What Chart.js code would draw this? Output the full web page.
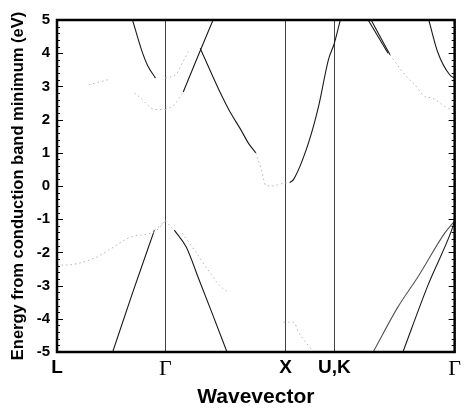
<!DOCTYPE html>
<html lang="en">
  <head>
    <meta charset="UTF-8" />
    <title>Band structure</title>
    <script src="https://cdn.jsdelivr.net/npm/chart.js"></script>
    <style>
      body {
        margin: 0;
        padding: 0;
        background-color: #fff;
      }

      .chart-container {
        position: relative;
        width: 465px;
        height: 412px;
      }
    </style>
  </head>
  <body>
    <div class="chart-container">
      <canvas id="band-chart"></canvas>
    </div>

    <script>
      // symmetry points along the wavevector axis (0 = L, 100 = Gamma)
      const kPoints = [0, 27.25, 57.5, 69.75, 100];
      const kLabels = ["L", "Γ", "X", "U,K", "Γ"];

      // energy axis (eV)
      const energyMin = -5;
      const energyMax = 5;

      // bands drawn dark
      const cbLG_k = [19, 21.25, 22.75, 24.75];
      const cbLG_E = [5, 4.1, 3.64, 3.25];
      const vbLG_k = [14, 19, 24.5];
      const vbLG_E = [-5, -3.22, -1.33];
      const cbGX1_k = [31.75, 35.75, 39.25];
      const cbGX1_E = [2.83, 4.0, 5];
      const cbGX2_k = [36, 41.5, 43.25, 46.25, 48.25, 50];
      const cbGX2_E = [4.15, 2.7, 2.29, 1.69, 1.27, 1.0];
      const vbGX_k = [29.5, 32.5, 35.75, 39, 42.75];
      const vbGX_E = [-1.33, -1.84, -2.83, -3.83, -5];
      const cbXU_k = [58.5, 59.5, 63.25, 65.75, 68.25, 69.75, 71.25];
      const cbXU_E = [0.1, 0.2, 1.3, 2.38, 3.8, 4.3, 5];
      const cbKG1_k = [79, 83.75];
      const cbKG1_E = [5, 3.95];
      const cbKG2_k = [78.25, 83.25];
      const cbKG2_E = [5, 4.0];
      const cbKG3_k = [93.5, 95.75, 98.75, 100];
      const cbKG3_E = [5, 4.03, 3.35, 3.25];
      const vbKG1_k = [87, 93.25, 99.25, 100];
      const vbKG1_E = [-5, -3.0, -1.33, -1.05];
      const vbKG2_k = [79.5, 85.75, 90.75, 97.5, 100];
      const vbKG2_E = [-5, -3.64, -2.74, -1.42, -1.05];

      // bands drawn faint
      const fLG1_k = [8, 12.75];
      const fLG1_E = [3.05, 3.2];
      const fLG2_k = [19.5, 20.75, 24.75, 27.25];
      const fLG2_E = [2.8, 2.68, 2.3, 2.3];
      const fLG3_k = [0, 2, 9.5, 13, 18.5, 24.75, 27.25];
      const fLG3_E = [-2.38, -2.38, -2.17, -1.93, -1.54, -1.36, -1.05];
      const fLG4_k = [24.5, 27.25];
      const fLG4_E = [-1.33, -1.05];
      const fGX1_k = [27.25, 30, 31.5, 33.25];
      const fGX1_E = [3.25, 3.37, 3.7, 4.1];
      const fGX2_k = [27.25, 29.5, 31.75];
      const fGX2_E = [2.3, 2.45, 2.83];
      const fGX3_k = [50, 51.5, 52.5, 54, 56, 57.5, 58.5];
      const fGX3_E = [1.0, 0.45, 0.02, 0.0, 0.05, 0.1, 0.1];
      const fGX4_k = [27.25, 29.5];
      const fGX4_E = [-1.05, -1.33];
      const fGX5_k = [31.5, 34, 37.5, 40.75, 43.25];
      const fGX5_E = [-1.42, -1.84, -2.44, -2.98, -3.22];
      const fXU_k = [57, 59.5, 60.75, 64.5];
      const fXU_E = [-4.1, -4.1, -4.4, -5];
      const fKG_k = [83.75, 86.5, 88.25, 90, 92.75, 94, 98.25, 100];
      const fKG_E = [3.95, 3.5, 3.25, 3.04, 2.68, 2.66, 2.35, 2.3];

      const darkBands = [
        [cbLG_k, cbLG_E],
        [vbLG_k, vbLG_E],
        [cbGX1_k, cbGX1_E],
        [cbGX2_k, cbGX2_E],
        [vbGX_k, vbGX_E],
        [cbXU_k, cbXU_E],
        [cbKG1_k, cbKG1_E],
        [cbKG2_k, cbKG2_E],
        [cbKG3_k, cbKG3_E],
        [vbKG1_k, vbKG1_E],
        [vbKG2_k, vbKG2_E],
      ];

      const faintBands = [
        [fLG1_k, fLG1_E],
        [fLG2_k, fLG2_E],
        [fLG3_k, fLG3_E],
        [fLG4_k, fLG4_E],
        [fGX1_k, fGX1_E],
        [fGX2_k, fGX2_E],
        [fGX3_k, fGX3_E],
        [fGX4_k, fGX4_E],
        [fGX5_k, fGX5_E],
        [fXU_k, fXU_E],
        [fKG_k, fKG_E],
      ];

      function toPoints(ks, es) {
        return ks.map((k, i) => ({ x: k, y: es[i] }));
      }

      const datasets = [];
      faintBands.forEach(([ks, es]) => {
        datasets.push({
          data: toPoints(ks, es),
          showLine: true,
          borderColor: "#b4b4b4",
          borderWidth: 1,
          borderDash: [1.5, 3],
          pointRadius: 0,
          cubicInterpolationMode: "monotone",
        });
      });
      darkBands.forEach(([ks, es], i) => {
        datasets.push({
          data: toPoints(ks, es),
          showLine: true,
          borderColor: i === 10 ? "#555" : "#1a1a1a",
          borderWidth: 1.1,
          pointRadius: 0,
          cubicInterpolationMode: "monotone",
        });
      });

      // frame and small inside ticks on the energy axis
      const framePlugin = {
        id: "frame",
        afterDraw(chart) {
          const { ctx, chartArea } = chart;
          const y = chart.scales.y;
          ctx.save();
          ctx.strokeStyle = "#000";
          ctx.lineWidth = 1;
          for (let v = energyMin; v <= energyMax + 0.001; v += 0.2) {
            const py = Math.round(y.getPixelForValue(v)) + 0.5;
            const major = Math.abs(v - Math.round(v)) < 0.01;
            const len = major ? 6 : 3;
            ctx.beginPath();
            ctx.moveTo(chartArea.left, py);
            ctx.lineTo(chartArea.left + len, py);
            ctx.moveTo(chartArea.right, py);
            ctx.lineTo(chartArea.right - len, py);
            ctx.stroke();
          }
          ctx.lineWidth = 2.5;
          ctx.strokeRect(
            chartArea.left,
            chartArea.top,
            chartArea.right - chartArea.left,
            chartArea.bottom - chartArea.top
          );
          ctx.restore();
        },
      };

      new Chart(document.getElementById("band-chart"), {
        type: "scatter",
        data: { datasets },
        plugins: [framePlugin],
        options: {
          responsive: true,
          maintainAspectRatio: false,
          animation: false,
          layout: {
            padding: { top: 20, right: 8, left: 0, bottom: 0 },
          },
          plugins: {
            legend: { display: false },
            tooltip: { enabled: false },
          },
          scales: {
            x: {
              type: "linear",
              min: 0,
              max: 100,
              afterBuildTicks: (scale) => {
                scale.ticks = kPoints.map((v) => ({ value: v }));
              },
              afterFit: (scale) => {
                scale.height = 60;
              },
              ticks: {
                autoSkip: false,
                maxRotation: 0,
                padding: 4,
                color: "#000",
                callback: (value, index) => kLabels[index],
                font: (ctx) =>
                  kLabels[ctx.index] === "Γ"
                    ? { family: "Liberation Serif", size: 22 }
                    : { family: "Liberation Sans", size: 19, weight: "bold" },
              },
              grid: {
                drawTicks: false,
                color: (ctx) =>
                  ctx.index === 0 || ctx.index === kPoints.length - 1
                    ? "rgba(0,0,0,0)"
                    : "#444",
                lineWidth: 1,
              },
              border: { display: false },
              title: {
                display: true,
                text: "Wavevector",
                color: "#000",
                font: { family: "Liberation Sans", size: 21, weight: "bold" },
                padding: { top: 0, bottom: 2 },
              },
            },
            y: {
              min: energyMin,
              max: energyMax,
              afterFit: (scale) => {
                scale.width = 57;
              },
              ticks: {
                stepSize: 1,
                padding: 7,
                color: "#000",
                font: { family: "Liberation Sans", size: 15, weight: "bold" },
              },
              grid: { display: false, drawTicks: false },
              border: { display: false },
              title: {
                display: true,
                text: "Energy from conduction band minimum (eV)",
                color: "#000",
                font: { family: "Liberation Sans", size: 16.5, weight: "bold" },
                padding: { top: 9, bottom: 0 },
              },
            },
          },
        },
      });
    </script>
  </body>
</html>
